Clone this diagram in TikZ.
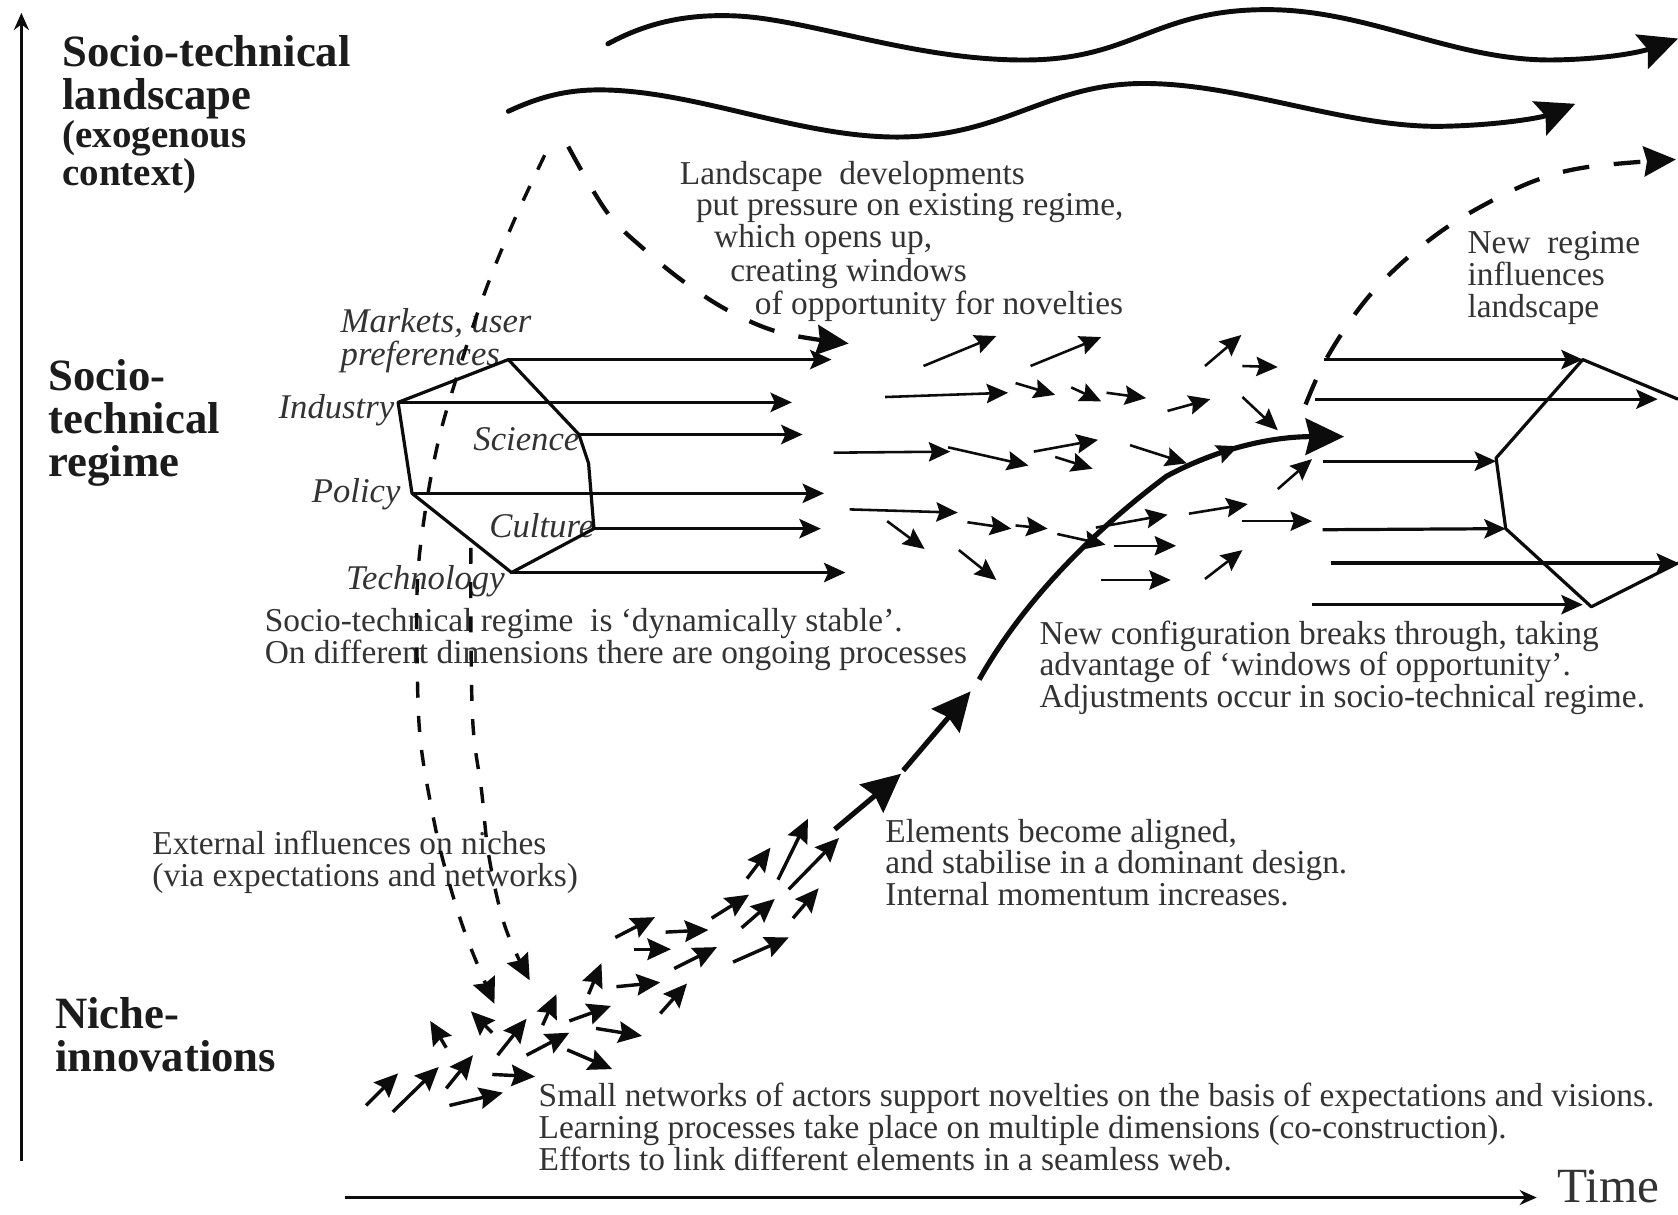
\documentclass[tikz,border=0pt]{standalone}
\usepackage{fontspec}
\setmainfont{Liberation Serif}
\usetikzlibrary{arrows.meta}
\definecolor{ink}{HTML}{333333}
\definecolor{headink}{HTML}{1C1C1C}
\definecolor{stroke}{HTML}{0C0C0C}
\tikzset{
  body/.style={anchor=west,inner sep=0pt,align=left,text=ink,font=\fontsize{15.6}{14.9}\selectfont},
  line1/.style={anchor=west,inner sep=0pt,text=ink,font=\fontsize{15.6}{15}\selectfont},
  head/.style={anchor=west,inner sep=0pt,align=left,text=headink,font=\fontsize{20.9}{20.1}\bfseries\selectfont},
  subhead/.style={anchor=west,inner sep=0pt,align=left,text=headink,font=\fontsize{18.2}{18}\bfseries\selectfont},
  dim/.style={anchor=west,inner sep=0pt,align=left,text=ink,font=\fontsize{16.2}{15.5}\itshape\selectfont},
  axis/.style={draw=stroke,line width=1.2pt,-{Stealth[length=8pt,width=7pt]}},
  wave/.style={draw=stroke,line width=2.3pt,line cap=round,-{Stealth[length=18pt,width=17pt,inset=3pt]}},
  longarr/.style={draw=stroke,line width=1.5pt,-{Stealth[length=10pt,width=9pt,inset=2pt]}},
  smallarr/.style={draw=stroke,line width=1.2pt,-{Stealth[length=10pt,width=9pt,inset=1.5pt]}},
  fatarr/.style={draw=stroke,line width=1.6pt,-{Stealth[length=11pt,width=10pt,inset=1.5pt]}},
  hex/.style={draw=stroke,line width=1.5pt,line join=round},
  dashthin/.style={draw=stroke,line width=1.6pt,dash pattern=on 7.5pt off 8.5pt,-{Stealth[length=12pt,width=11pt,inset=1.5pt]}},
  dashthick/.style={draw=stroke,line width=2pt,dash pattern=on 12.5pt off 11.5pt,-{Stealth[length=15pt,width=14pt,inset=1.5pt]}},
  bold path/.style={draw=stroke,line width=2.4pt,-{Stealth[length=18pt,width=17pt,inset=2pt]}},
}
\begin{document}
\begin{tikzpicture}[x=0.5pt,y=-0.5pt]
\useasboundingbox (0,0) rectangle (1568,1135);
\fill[white] (0,0) rectangle (1568,1135);

% Headings
\node[head] (hLand) at (58,72) {Socio-technical\\landscape};
\node[subhead] (hExo) at (58,147) {(exogenous\\context)};
\node[head] (hReg) at (45,395) {Socio-\\technical\\regime};
\node[head] (hNiche) at (51,967) {Niche-\\innovations};

% Descriptions
\node[line1] (l1) at (635,165) {Landscape\ \ developments};
\node[line1] (l2) at (650,194) {put pressure on existing regime,};
\node[line1] (l3) at (667,224) {which opens up,};
\node[line1] (l4) at (682,256) {creating windows};
\node[line1] (l5) at (705,286) {of opportunity for novelties};
\node[body] (tNew) at (1371,260) {New\ \ regime\\influences\\landscape};
\node[body] (tStable) at (247,598) {Socio-technical regime\ \ is ‘dynamically stable’.\\On different dimensions there are ongoing processes};
\node[body] (tBreak) at (971,624) {New configuration breaks through, taking\\advantage of ‘windows of opportunity’.\\Adjustments occur in socio-technical regime.};
\node[body] (tAlign) at (827,806) {Elements become aligned,\\and stabilise in a dominant design.\\Internal momentum increases.};
\node[body] (tExt) at (142,806) {External influences on niches\\(via expectations and networks)};
\node[body] (tSmall) at (503,1053) {Small networks of actors support novelties on the basis of expectations and visions.\\Learning processes take place on multiple dimensions (co-construction).\\Efforts to link different elements in a seamless web.};
\node[anchor=west,inner sep=0pt,text=ink,font=\fontsize{23}{24}\selectfont] (tTime) at (1455,1109) {Time};

% Regime dimensions
\node[dim] (dMk) at (318,318) {Markets, user\\preferences};
\node[dim] (dIn) at (260,383) {Industry};
\node[dim] (dSc) at (442,410) {Science};
\node[dim] (dPo) at (291,462) {Policy};
\node[dim] (dCu) at (457,491) {Culture};
\node[dim] (dTe) at (323,543) {Technology};

% Axes
\coordinate (yB) at (20,1085);
\coordinate (yT) at (20,12);
\coordinate (xL) at (322,1119);
\coordinate (xR) at (1436,1119);
\draw[axis] (yB) -- (yT);
\draw[axis] (xL) -- (xR);

% Landscape waves
\draw[wave] (568,41) .. controls (610,18) and (650,13) .. (690,15)
  .. controls (760,19) and (860,58) .. (964,56)
  .. controls (1060,54) and (1080,9) .. (1184,9)
  .. controls (1280,9) and (1360,58) .. (1454,56)
  .. controls (1505,55) and (1535,48) .. (1568,36);
\draw[wave] (475,104) .. controls (505,90) and (530,84) .. (560,84)
  .. controls (650,84) and (750,130) .. (844,128)
  .. controls (940,126) and (980,78) .. (1069,78)
  .. controls (1160,78) and (1260,120) .. (1349,118)
  .. controls (1400,117) and (1440,110) .. (1472,97);

% Hexagon left
\coordinate (hA) at (475,336);
\coordinate (hB) at (372,376);
\coordinate (hC) at (385,461);
\coordinate (hD) at (478,535);
\coordinate (hE) at (555,494);
\coordinate (hF) at (550,433);
\coordinate (hG) at (541,406);
\draw[hex] (hA) -- (hG) -- (hF) -- (hE) -- (hD) -- (hC) -- (hB) -- cycle;
\draw[longarr] (hA) -- ++(302,0);
\draw[longarr] (hB) -- ++(368,0);
\draw[longarr] (hG) -- ++(209,0);
\draw[longarr] (hC) -- ++(385,0);
\draw[longarr] (hE) -- ++(212,0);
\draw[longarr] (hD) -- ++(312,0);

% Hexagon right
\coordinate (rA) at (1479,336);
\coordinate (rB) at (1398,428);
\coordinate (rC) at (1407,494);
\coordinate (rD) at (1487,567);
\coordinate (rE) at (1568,526);
\coordinate (rF) at (1568,373);
\draw[hex] (rF) -- (rA) -- (rB) -- (rC) -- (rD) -- (rE);
\coordinate (s1) at (1237,336);
\coordinate (s2) at (1229,373);
\coordinate (s3) at (1236,431);
\coordinate (s4) at (1236,495);
\coordinate (s5) at (1244,526);
\coordinate (s6) at (1226,565);
\draw[longarr] (s1) -- (rA);
\draw[longarr] (s2) -- ++(320,0);
\draw[longarr] (s3) -- (rB |- s3);
\draw[longarr] (s4) -- (rC);
\draw[longarr] (s5) -- (rE);
\draw[longarr] (s6) -- ++(253,0);

% Dashed influences
\draw[dashthin] plot[smooth,tension=0.6] coordinates {(509,145) (480,207) (452,276) (425,358) (409,415) (397,480) (390,545) (390,631) (393,693) (403,754) (415,808) (435,873) (462,938)};
\draw[dashthin] plot[smooth,tension=0.6] coordinates {(440,512) (440,584) (442,678) (450,739) (457,801) (472,866) (495,916)};
\draw[dashthick] plot[smooth,tension=0.6] coordinates {(531,137) (567,198) (602,233) (640,264) (682,291) (730,311) (793,321)};
\draw[dashthick] plot[smooth,tension=0.6] coordinates {(1220,378) (1239,336) (1271,287) (1304,251) (1344,218) (1384,193) (1434,169) (1484,156) (1566,149)};

% Breakthrough path
\draw[bold path]
  (915,635) .. controls (960,555) and (1030,490) .. (1090,445) .. controls (1140,418) and (1190,408) .. (1256,408);
\draw[bold path] (844,720) -- (907,646);
\draw[bold path] (780,775) -- (842,723);

% Swarm of small arrows, regime level
\foreach \xa/\ya/\xb/\yb in {
  863/342/931/314, 963/342/1029/315, 827/371/942/367, 949/358/986/369,
  1001/362/1029/375, 1034/367/1071/372, 1091/384/1131/373, 1126/342/1160/313,
  1161/342/1194/343, 1161/371/1194/402, 779/423/888/422, 886/418/961/435,
  966/422/1026/411, 986/427/1021/438, 1056/416/1109/433, 1194/457/1226/429,
  794/476/895/479, 829/487/864/513, 904/488/945/494, 949/491/979/494,
  988/499/1033/509, 896/514/931/542, 1024/493/1091/481, 1041/510/1099/510,
  1029/542/1094/542, 1111/480/1166/471, 1161/487/1226/487, 1126/541/1161/514,
  1105/438/1157/417}
  \draw[smallarr] (\xa,\ya) -- (\xb,\yb);

% Swarm of small arrows, niche level
\foreach \xa/\ya/\xb/\yb in {
  737/831/784/783, 727/822/755/765, 698/821/720/792, 741/858/765/830,
  665/858/700/836, 693/867/724/840, 685/899/737/876, 575/876/612/857,
  622/871/662/869, 592/887/627/887, 630/905/670/885, 576/922/617/918,
  617/947/642/919, 550/929/562/900, 532/954/571/940, 557/961/600/968,
  507/958/520/929, 465/986/492/952, 492/986/532/965, 530/981/572/999,
  460/1004/500/1006, 417/1017/442/986, 420/1033/470/1021, 367/1039/410/997,
  342/1033/372/1003, 417/979/402/954, 460/965/440/945}
  \draw[fatarr] (\xa,\ya) -- (\xb,\yb);
\end{tikzpicture}
\end{document}
